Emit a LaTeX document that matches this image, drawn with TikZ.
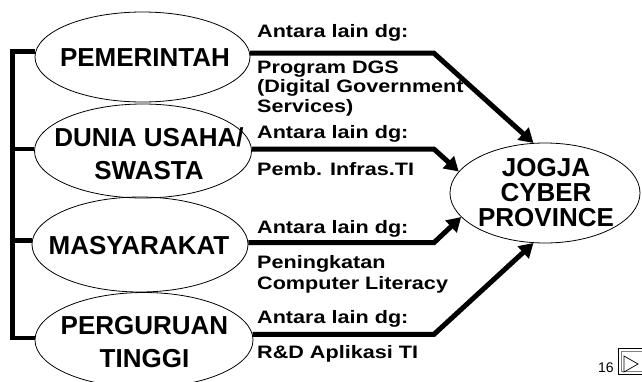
\documentclass[tikz,border=0pt]{standalone}
\usepackage{fontspec}
\usepackage{graphicx}
\setmainfont{Liberation Sans}
\newfontfamily\boldsans{Liberation Sans Bold}
\newcommand\lblstretch[1]{\scalebox{1.2}[1]{#1}}
\usetikzlibrary{shapes.geometric,arrows.meta}
\begin{document}
\begin{tikzpicture}[x=1pt,y=-1pt,
  oval/.style={draw, ellipse, line width=0.8pt, inner sep=0pt},
  ovaltext/.style={font=\boldsans\fontsize{26}{33}\selectfont, align=center, inner sep=0pt},
  lbl/.style={font=\boldsans\fontsize{18}{20}\selectfont, anchor=base west, inner sep=0pt},
  arr/.style={line width=5pt, line join=miter, -{Triangle[length=14pt,width=16pt]}},
  brk/.style={line width=4.5pt, line join=miter}
]
\fill[white] (0,0) rectangle (642,381);
\useasboundingbox (0,0) rectangle (642,381);

% ovals
\node[oval, minimum width=215pt, minimum height=90pt] (pem) at (142.5,57) {};
\node[oval, minimum width=217pt, minimum height=94pt] (dun) at (143,151) {};
\node[oval, minimum width=216pt, minimum height=95pt] (mas) at (140,244.5) {};
\node[oval, minimum width=218pt, minimum height=95pt] (per) at (144,340) {};
\node[oval, minimum width=190pt, minimum height=100pt] (jcp) at (545,193) {};

\node[ovaltext] (pemt) at (145,58) {PEMERINTAH};
\node[ovaltext] (dunt) at (149,153.5) {DUNIA USAHA/\\SWASTA};
\node[ovaltext] (mast) at (139,246) {MASYARAKAT};
\node[ovaltext] (pert) at (144.5,342.5) {PERGURUAN\\TINGGI};
\node[ovaltext, font=\boldsans\fontsize{26}{25}\selectfont] (jcpt) at (546,192.5) {JOGJA\\CYBER\\PROVINCE};

% bracket
\coordinate (bx) at (12.5,0);
\draw[brk] (pem.177.3) -- (pem.177.3 -| bx) -- (per.179.5 -| bx) -- (per.179.5);
\draw[brk] (dun.179) -- (dun.179 -| bx);
\draw[brk] (mas.178.7) -- (mas.178.7 -| bx);

% arrows
\coordinate (bnd) at (434,0);
\draw[arr] (pem.2.7) -- (pem.2.7 -| bnd) -- (jcp.103);
\draw[arr] (dun.1.85) -- (dun.1.85 -| bnd) -- (jcp.166);
\draw[arr] (mas.1.06) -- (mas.1.06 -| bnd) -- (jcp.196);
\draw[arr] (per.3.2) -- (per.3.2 -| bnd) -- (jcp.257);

% labels
\node[lbl] (a1) at (257,37) {\lblstretch{Antara lain dg:}};
\node[lbl] (b1a) at (257,73) {\lblstretch{Program DGS}};
\node[lbl] (b1b) at (257,92.5) {\lblstretch{(Digital Government}};
\node[lbl] (b1c) at (257,112) {\lblstretch{Services)}};
\node[lbl] (a2) at (257,138) {\lblstretch{Antara lain dg:}};
\node[lbl] (b2) at (257,175) {\lblstretch{Pemb. Infras.TI}};
\node[lbl] (a3) at (257,233) {\lblstretch{Antara lain dg:}};
\node[lbl] (b3a) at (257,268) {\lblstretch{Peningkatan}};
\node[lbl] (b3b) at (257,289) {\lblstretch{Computer Literacy}};
\node[lbl] (a4) at (257,323) {\lblstretch{Antara lain dg:}};
\node[lbl] (b4) at (257,358) {\lblstretch{R\&D Aplikasi TI}};

% page number and button
\node[font=\fontsize{14}{16}\selectfont, anchor=base west, inner sep=0pt] (pg) at (598,372) {16};
\draw[line width=0.8pt] (618,348) rectangle (652,374);
\draw[line width=0.6pt, gray] (621,351) rectangle (652,371);
\draw[line width=0.7pt] (624,356) -- (638,364) -- (624,372) -- cycle;
\end{tikzpicture}
\end{document}
